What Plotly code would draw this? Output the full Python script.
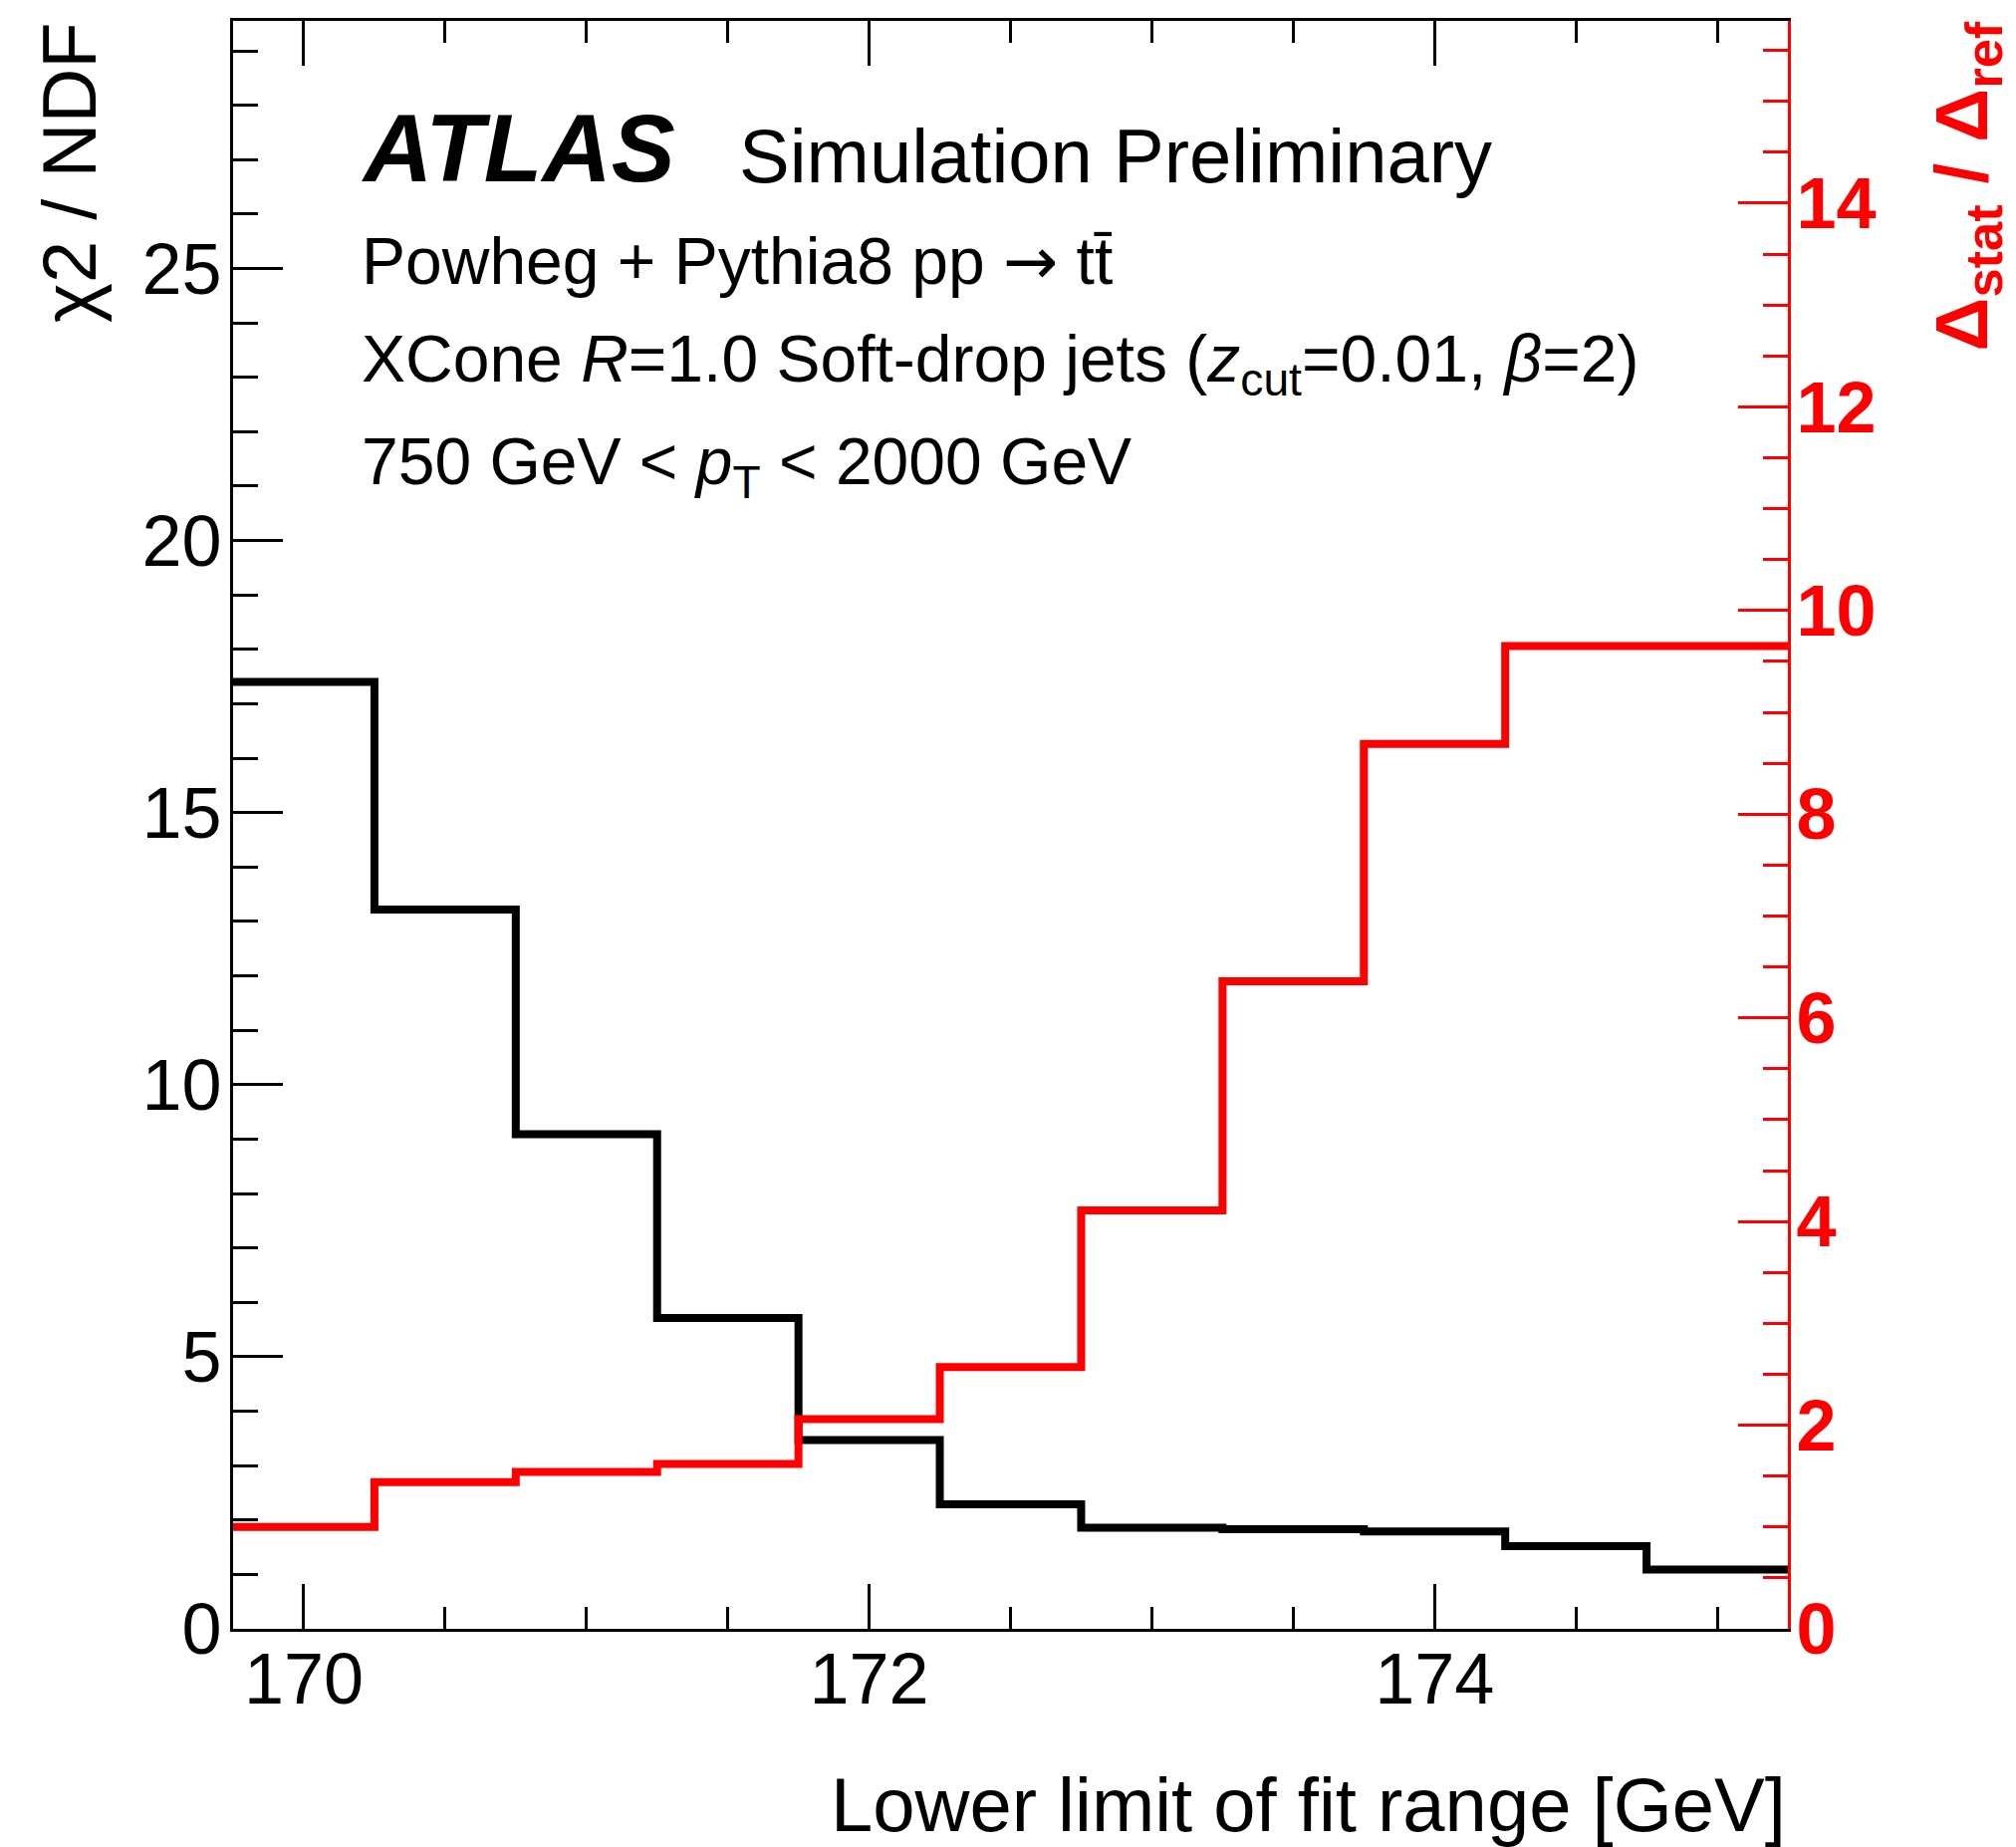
import plotly.graph_objects as go

# ---- data ----
fit_lower_limit = [170.0, 170.5, 171.0, 171.5, 172.0, 172.5, 173.0, 173.5, 174.0, 174.5, 175.0]
chi2_ndf = [17.4, 13.22, 9.09, 5.71, 3.47, 2.29, 1.86, 1.83, 1.79, 1.52, 1.09]
delta_ratio = [1.00, 1.44, 1.54, 1.62, 2.06, 2.57, 4.11, 6.36, 8.69, 9.65, 9.65]
bin_width = 0.5

x_ticks = [170, 172, 174]
x_title = "Lower limit of fit range [GeV]"
y_title = "χ2 / NDF"
y2_title = "<b>Δ<sub>stat</sub> / Δ<sub>ref</sub></b>"


def step_xy(centers, values, w):
    xs = [c - w / 2 for c in centers] + [centers[-1] + w / 2]
    ys = list(values) + [values[-1]]
    return xs, ys


FONT = "Liberation Sans"
W, H = 2024, 1854
L, R, T, B = 234, 1795, 21, 1635


def px(x):
    return (x - L) / (R - L)


def py(y):
    return (B - y) / (B - T)


fig = go.Figure()
bx, by = step_xy(fit_lower_limit, chi2_ndf, bin_width)
fig.add_trace(go.Scatter(x=bx, y=by, mode="lines", line=dict(color="black", width=8, shape="hv"),
                         showlegend=False, hoverinfo="skip"))
rx, ry = step_xy(fit_lower_limit, delta_ratio, bin_width)
fig.add_trace(go.Scatter(x=rx, y=ry, mode="lines", line=dict(color="#ff0000", width=8, shape="hv"),
                         yaxis="y2", showlegend=False, hoverinfo="skip"))

fig.update_layout(
    width=W, height=H,
    margin=dict(l=L, r=W - R, t=T, b=H - B, pad=0),
    paper_bgcolor="white", plot_bgcolor="white",
    font=dict(family=FONT, color="black"),
    xaxis=dict(range=[169.75, 175.25], tickvals=x_ticks, ticks="inside", ticklen=45, tickwidth=2.5,
               tickcolor="black", showline=True, linecolor="black", linewidth=3, mirror="ticks",
               showgrid=False, zeroline=False, tickfont=dict(size=72, family=FONT),
               ticklabelstandoff=-14,
               minor=dict(dtick=0.5, tick0=169.5, ticks="inside", ticklen=22, tickwidth=2.5, tickcolor="black",
                          showgrid=False)),
    yaxis=dict(range=[0, 29.55], dtick=5, ticks="inside", ticklen=50, tickwidth=2.5, tickcolor="black",
               showline=True, linecolor="black", linewidth=3, mirror=False, showgrid=False, zeroline=False,
               tickfont=dict(size=72, family=FONT), ticklabelstandoff=-6,
               minor=dict(dtick=1, ticks="inside", ticklen=25, tickwidth=2.5, tickcolor="black", showgrid=False)),
    yaxis2=dict(range=[0, 15.79], dtick=2, overlaying="y", side="right", anchor="x", ticks="inside", ticklen=50,
                tickwidth=2.5, tickcolor="#ff0000", showline=True, linecolor="#ff0000", linewidth=3,
                showgrid=False, zeroline=False,
                tickfont=dict(size=72, family=FONT, color="#ff0000", weight="bold"), ticklabelstandoff=-9,
                minor=dict(dtick=0.5, ticks="inside", ticklen=25, tickwidth=2.5, tickcolor="#ff0000",
                           showgrid=False)),
)

ann = []
ann.append(dict(text="<b><i>ATLAS</i></b>", x=px(361), y=py(149), xanchor="left", yanchor="middle",
                font=dict(size=96, family=FONT, color="black")))
ann.append(dict(text="Simulation Preliminary", x=px(740), y=py(156), xanchor="left", yanchor="middle",
                font=dict(size=76, family=FONT, color="black")))
ann.append(dict(text="Powheg + Pythia8 pp <span style='font-family:DejaVu Sans'>→</span> tt\u0304",
                x=px(361), y=py(262), xanchor="left", yanchor="middle",
                font=dict(size=66, family=FONT, color="black")))
ann.append(dict(text="XCone <i>R</i>=1.0 Soft-drop jets (<i>z</i><sub>cut</sub>=0.01, <i>β</i>=2)",
                x=px(361), y=py(365), xanchor="left", yanchor="middle",
                font=dict(size=66, family=FONT, color="black")))
ann.append(dict(text="750 GeV &lt; <i>p</i><sub>T</sub> &lt; 2000 GeV", x=px(361), y=py(468),
                xanchor="left", yanchor="middle", font=dict(size=66, family=FONT, color="black")))
ann.append(dict(text=x_title, x=px(1795), y=py(1811), xanchor="right", yanchor="middle",
                font=dict(size=76, family=FONT, color="black")))
ann.append(dict(text=y_title, x=px(69), y=py(20), xanchor="center", yanchor="top", textangle=-90,
                font=dict(size=76, family=FONT, color="black")))
ann.append(dict(text=y2_title, x=px(1974), y=py(20), xanchor="center", yanchor="top", textangle=-90,
                font=dict(size=75, family=FONT, color="#ff0000")))
for a in ann:
    a.update(xref="paper", yref="paper", showarrow=False)
fig.update_layout(annotations=ann)

fig.write_html("out.html")
